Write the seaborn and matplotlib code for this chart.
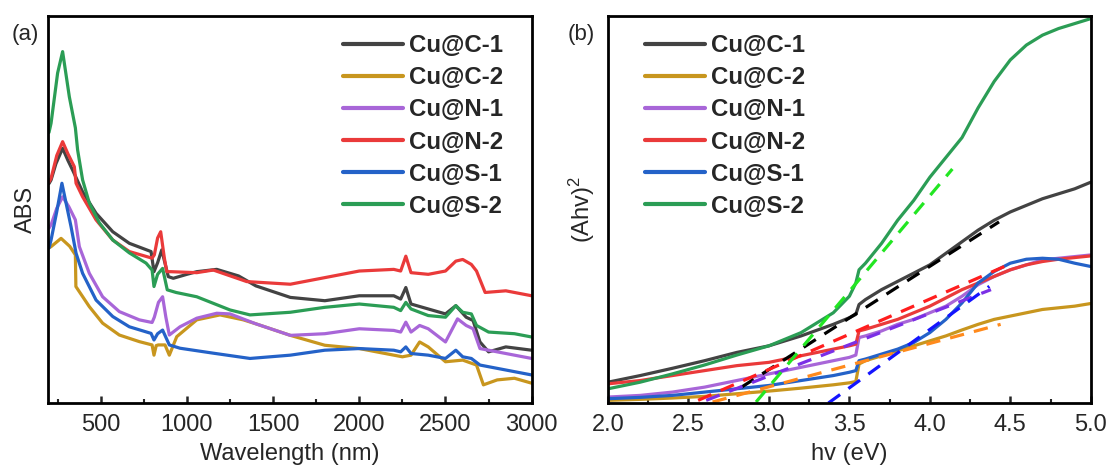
import numpy as np
import pandas as pd
import matplotlib
matplotlib.use("Agg")
import matplotlib.pyplot as plt
import seaborn as sns
from matplotlib.ticker import MultipleLocator

# ---------------- data: panel (a) absorbance (a.u.) ----------------
labels = ["Cu@C-1", "Cu@C-2", "Cu@N-1", "Cu@N-2", "Cu@S-1", "Cu@S-2"]
colors = ["#434343", "#c8961e", "#a866d8", "#ea3a3a", "#2462c8", "#2b9d55"]

wl_C1 = [200, 212, 240, 279, 310, 337, 395, 473, 570, 666, 792, 809, 830, 854, 892, 921, 1000, 1057, 1173, 1300, 1400, 1600, 1800, 2000, 2200, 2240, 2270, 2300, 2400, 2500, 2560, 2620, 2660, 2700, 2750, 2850, 3000]
abs_C1 = [66.5, 67.6, 72.5, 77.2, 73.5, 70.6, 64.0, 57.5, 51.9, 48.4, 45.9, 39.8, 42.5, 46.4, 38.3, 37.8, 39.0, 39.8, 40.5, 38.5, 35.5, 32.0, 31.0, 32.5, 32.5, 31.5, 35.0, 30.0, 28.5, 27.0, 29.5, 26.0, 25.0, 18.5, 15.5, 17.0, 16.0]

wl_C2 = [200, 212, 270, 320, 353, 356, 434, 511, 608, 724, 798, 809, 822, 834, 873, 898, 941, 1057, 1192, 1327, 1400, 1600, 1800, 2000, 2200, 2250, 2300, 2350, 2400, 2500, 2600, 2680, 2720, 2800, 2900, 3000]
abs_C2 = [47.0, 47.4, 49.9, 47.5, 44.9, 35.3, 29.2, 24.2, 20.6, 18.6, 17.6, 14.5, 17.4, 17.6, 17.6, 14.5, 20.1, 25.2, 26.7, 25.2, 24.0, 20.5, 17.5, 16.5, 14.5, 14.0, 14.5, 18.5, 17.0, 12.5, 13.0, 11.5, 5.5, 7.0, 7.5, 6.0]

wl_N1 = [200, 212, 245, 279, 315, 353, 376, 434, 511, 608, 724, 798, 811, 835, 859, 878, 898, 960, 1057, 1173, 1250, 1400, 1600, 1800, 2000, 2200, 2240, 2270, 2300, 2350, 2400, 2500, 2570, 2620, 2660, 2700, 2800, 3000]
abs_N1 = [53.0, 54.0, 59.0, 62.5, 59.5, 55.5, 47.4, 39.3, 32.2, 27.7, 25.2, 24.4, 26.0, 30.5, 32.2, 26.0, 20.6, 23.1, 25.7, 27.2, 27.0, 24.0, 20.5, 21.0, 22.5, 22.0, 21.5, 24.5, 21.5, 23.5, 22.5, 18.5, 25.5, 23.5, 22.5, 16.5, 15.5, 13.5]

wl_N2 = [200, 212, 245, 279, 310, 347, 357, 395, 473, 570, 666, 798, 811, 830, 848, 869, 883, 908, 1057, 1153, 1347, 1600, 1800, 2000, 2200, 2240, 2270, 2300, 2400, 2500, 2560, 2600, 2650, 2680, 2730, 2850, 3000]
abs_N2 = [67.0, 68.1, 75.0, 79.2, 75.5, 71.6, 66.6, 62.5, 55.5, 49.4, 45.9, 43.9, 44.9, 50.0, 51.9, 44.0, 39.8, 39.8, 39.5, 40.3, 36.8, 36.0, 38.0, 40.0, 40.5, 40.0, 44.5, 39.5, 39.0, 40.0, 43.0, 43.5, 42.0, 40.0, 33.5, 34.0, 32.5]

wl_S1 = [200, 212, 245, 275, 328, 357, 395, 473, 570, 666, 792, 809, 830, 859, 898, 960, 1153, 1366, 1600, 1800, 2000, 2200, 2240, 2270, 2300, 2400, 2500, 2560, 2600, 2650, 2700, 2800, 3000]
abs_S1 = [47.0, 49.4, 58.0, 66.6, 53.4, 45.4, 39.3, 31.2, 26.2, 23.1, 21.1, 19.1, 21.0, 22.1, 17.6, 16.6, 15.1, 13.5, 14.5, 16.0, 16.5, 16.0, 15.5, 17.0, 15.0, 14.5, 13.5, 16.0, 14.0, 13.5, 11.5, 10.5, 8.5]

wl_S2 = [200, 212, 250, 279, 318, 353, 366, 395, 434, 492, 570, 666, 763, 798, 809, 830, 859, 886, 937, 1057, 1250, 1366, 1600, 1800, 2000, 2200, 2240, 2270, 2300, 2400, 2500, 2560, 2600, 2650, 2680, 2750, 2900, 3000]
abs_S2 = [82.0, 84.8, 100.0, 106.5, 92.8, 83.4, 76.7, 67.6, 60.6, 54.6, 49.4, 45.5, 42.4, 40.3, 35.3, 39.0, 40.8, 34.3, 33.5, 32.2, 28.2, 26.7, 27.5, 29.0, 30.0, 29.0, 28.0, 30.5, 28.5, 26.5, 26.0, 29.5, 27.5, 27.0, 23.5, 21.5, 21.0, 20.0]

# ---------------- data: panel (b) Tauc plot ----------------
hv = [2.0, 2.2, 2.4, 2.6, 2.8, 3.0, 3.2, 3.4, 3.5, 3.54, 3.56, 3.6, 3.7, 3.8, 3.9, 4.0, 4.1, 4.2, 4.3, 4.4, 4.5, 4.6, 4.7, 4.8, 4.9, 5.0]
tauc_C1 = [6.3, 8.3, 10.5, 12.8, 15.3, 17.3, 20.3, 23.8, 25.8, 26.8, 29.8, 31.3, 34.3, 36.8, 39.3, 41.8, 45.3, 48.8, 52.3, 55.3, 57.8, 59.8, 61.8, 63.3, 64.8, 66.8]
tauc_C2 = [0.8, 1.1, 1.5, 2.0, 2.8, 3.6, 4.5, 5.5, 6.1, 6.5, 11.8, 12.8, 14.3, 15.8, 17.3, 18.8, 20.3, 22.1, 23.8, 25.3, 26.3, 27.3, 28.3, 28.8, 29.3, 30.1]
tauc_N1 = [1.8, 2.3, 3.3, 4.8, 6.8, 8.8, 10.8, 12.8, 13.8, 14.5, 19.8, 20.3, 21.8, 23.8, 25.3, 27.3, 29.3, 32.3, 35.8, 38.3, 40.3, 41.8, 43.3, 43.8, 44.3, 44.8]
tauc_N2 = [5.8, 6.8, 8.3, 9.8, 11.3, 12.3, 14.3, 16.3, 17.3, 17.8, 21.8, 22.3, 23.8, 25.3, 27.3, 29.3, 31.8, 34.3, 36.3, 38.3, 40.3, 41.8, 42.8, 43.5, 44.0, 44.5]
tauc_S1 = [1.3, 1.7, 2.3, 3.3, 4.3, 5.3, 6.8, 8.3, 9.3, 9.8, 12.8, 13.3, 14.8, 16.3, 18.3, 21.3, 25.3, 30.3, 36.3, 39.8, 42.3, 43.5, 43.8, 43.5, 42.3, 41.3]
tauc_S2 = [4.3, 6.3, 8.8, 11.5, 14.5, 17.3, 21.3, 27.3, 32.3, 36.3, 40.3, 42.3, 48.3, 55.3, 61.3, 68.3, 74.3, 80.3, 89.3, 97.3, 103.8, 108.3, 111.3, 113.3, 114.8, 116.3]

# linear fits (start/end points) and their colours
fit_x = {"Cu@C-1": [2.83, 4.43], "Cu@C-2": [2.65, 4.44], "Cu@N-1": [2.61, 4.38],
         "Cu@N-2": [2.56, 4.51], "Cu@S-1": [3.37, 4.37], "Cu@S-2": [2.92, 4.14]}
fit_y = {"Cu@C-1": [4.8, 54.8], "Cu@C-2": [0.3, 23.8], "Cu@N-1": [0.8, 34.3],
         "Cu@N-2": [0.8, 42.3], "Cu@S-1": [0.0, 35.3], "Cu@S-2": [0.3, 70.8]}
fit_colors = {"Cu@C-1": "#000000", "Cu@C-2": "#ff8a1c", "Cu@N-1": "#7b2fe6",
              "Cu@N-2": "#ff1e1e", "Cu@S-1": "#1414ff", "Cu@S-2": "#22e622"}

# ---------------- style ----------------
sns.set_style("white")
plt.rcParams["font.family"] = ["Liberation Sans", "DejaVu Sans"]
plt.rcParams["mathtext.fontset"] = "custom"
plt.rcParams["mathtext.rm"] = "Liberation Sans"
plt.rcParams["mathtext.it"] = "Liberation Sans:italic"

fig = plt.figure(figsize=(11.13, 4.66), dpi=100)
axA = fig.add_axes([0.0434, 0.1352, 0.4343, 0.8305])
axB = fig.add_axes([0.5463, 0.1352, 0.4337, 0.8305])

wl_all = [wl_C1, wl_C2, wl_N1, wl_N2, wl_S1, wl_S2]
abs_all = [abs_C1, abs_C2, abs_N1, abs_N2, abs_S1, abs_S2]
tauc_all = [tauc_C1, tauc_C2, tauc_N1, tauc_N2, tauc_S1, tauc_S2]

for lab, col, x, y in zip(labels, colors, wl_all, abs_all):
    sns.lineplot(x=x, y=y, ax=axA, color=col, lw=2.3, label=lab, sort=False)

for lab, col, y in zip(labels, colors, tauc_all):
    sns.lineplot(x=hv, y=y, ax=axB, color=col, lw=2.3, label=lab, sort=False)

for lab in labels:
    sns.lineplot(x=fit_x[lab], y=fit_y[lab], ax=axB, color=fit_colors[lab],
                 lw=2.3, linestyle=(0, (4.5, 3.2)), legend=False, sort=False)

axA.set_xlim(196, 3000)
axA.set_ylim(0, 117.3)
axB.set_xlim(2.0, 5.0)
axB.set_ylim(0, 117.1)

axA.xaxis.set_major_locator(MultipleLocator(500))
axA.xaxis.set_minor_locator(MultipleLocator(250))
axB.xaxis.set_major_locator(MultipleLocator(0.5))
axB.xaxis.set_minor_locator(MultipleLocator(0.25))
axB.xaxis.set_major_formatter(matplotlib.ticker.FormatStrFormatter("%.1f"))

for ax in (axA, axB):
    ax.set_yticks([])
    for s in ax.spines.values():
        s.set_linewidth(2.0)
        s.set_color("black")
    ax.tick_params(axis="x", which="major", direction="in", length=5, width=1.8,
                   labelsize=17, pad=8, bottom=True, top=False)
    ax.tick_params(axis="x", which="minor", direction="in", length=3, width=1.5,
                   bottom=True, top=False)

axA.set_xlabel("Wavelength (nm)", fontsize=17, labelpad=5)
axA.set_ylabel("ABS", fontsize=17, labelpad=8)
axB.set_xlabel("hv (eV)", fontsize=17, labelpad=5)
axB.set_ylabel("(Ahv)$^{2}$", fontsize=17, labelpad=8)

leg_kw = dict(frameon=False, handlelength=2.5, handletextpad=0.25,
              labelspacing=0.38, borderpad=0, borderaxespad=0,
              prop={"weight": "bold", "size": 17.3})
axA.legend(loc="upper left", bbox_to_anchor=(0.61, 0.953), **leg_kw)
axB.legend(loc="upper left", bbox_to_anchor=(0.077, 0.953), **leg_kw)
for ax in (axA, axB):
    for l in ax.get_legend().get_lines():
        l.set_linewidth(3)

fig.text(0.010, 0.915, "(a)", fontsize=16)
fig.text(0.510, 0.915, "(b)", fontsize=16)

fig.savefig("out.png", dpi=100)
